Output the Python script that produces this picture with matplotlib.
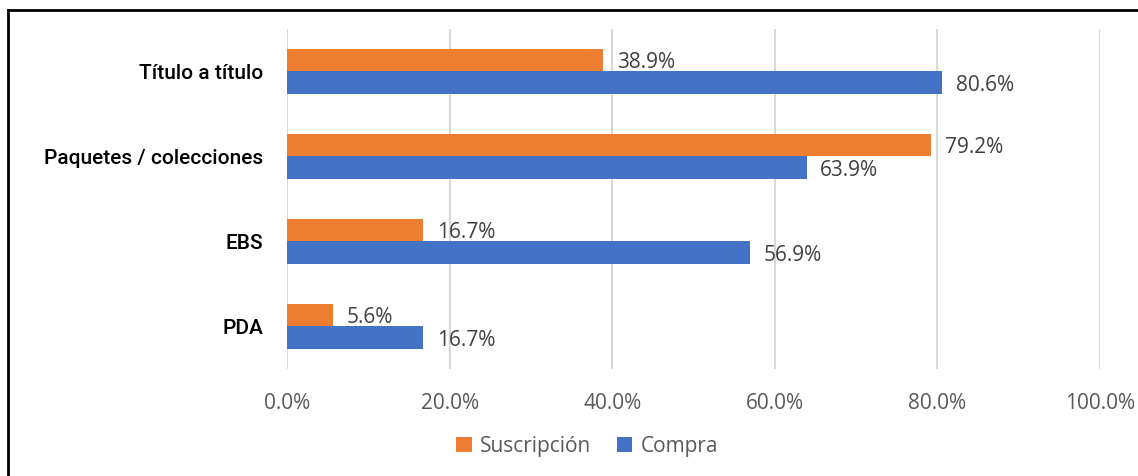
import numpy as np
import matplotlib.pyplot as plt
from matplotlib.lines import Line2D
from matplotlib.ticker import FuncFormatter

categorias = ['Título a título', 'Paquetes / colecciones', 'EBS', 'PDA']
suscripcion = [38.9, 79.2, 16.7, 5.6]
compra = [80.6, 63.9, 56.9, 16.7]

naranja = '#ED7D31'
azul = '#4472C4'
gris = '#595959'

fig = plt.figure(figsize=(11.38, 4.76), dpi=100)
ax = fig.add_axes([0.2522, 0.2248, 0.7144, 0.7143])

y = np.arange(len(categorias))
h = 0.26
b1 = ax.barh(y - h/2, suscripcion, height=h, color=naranja, label='Suscripción')
b2 = ax.barh(y + h/2, compra, height=h, color=azul, label='Compra')

for barras, valores in [(b1, suscripcion), (b2, compra)]:
    for bar, v in zip(barras, valores):
        ax.text(v + 1.7, bar.get_y() + bar.get_height()/2 + 0.03, f'{v:.1f}%',
                va='center', ha='left', fontsize=15, color='#404040',
                family=['Open Sans', 'DejaVu Sans'])

ax.set_xlim(0, 100)
ax.set_ylim(len(categorias) - 0.5, -0.5)
ax.set_xticks(np.arange(0, 101, 20))
ax.xaxis.set_major_formatter(FuncFormatter(lambda v, p: f'{v:.1f}%'))
ax.set_yticks(y)
ax.set_yticklabels(categorias)
ax.tick_params(axis='both', length=0)
ax.tick_params(axis='x', pad=17, labelcolor=gris, labelsize=15)
ax.tick_params(axis='y', pad=17, labelsize=15)
for t in ax.get_xticklabels():
    t.set_family(['Open Sans', 'DejaVu Sans'])
for t in ax.get_yticklabels():
    t.set_family(['Roboto', 'DejaVu Sans'])
    t.set_fontweight('medium')
    t.set_color('black')
for s in ax.spines.values():
    s.set_visible(False)
ax.grid(axis='x', color='#D9D9D9', linewidth=1.5)
ax.set_axisbelow(True)

leg = fig.legend(handles=[b1, b2], loc='center', bbox_to_anchor=(0.516, 0.063),
                 ncol=2, frameon=False, handlelength=0.75,
                 handleheight=0.75, handletextpad=0.4, columnspacing=1.2,
                 prop={'family': ['Open Sans', 'DejaVu Sans'], 'size': 15})
for t in leg.get_texts():
    t.set_color(gris)

# borde del recuadro
fig.add_artist(Line2D([0.007, 1.0], [0.979, 0.979], color='black', linewidth=2))
fig.add_artist(Line2D([0.007, 0.007], [0.0, 0.979], color='black', linewidth=2))

fig.savefig('out.png', dpi=100)
